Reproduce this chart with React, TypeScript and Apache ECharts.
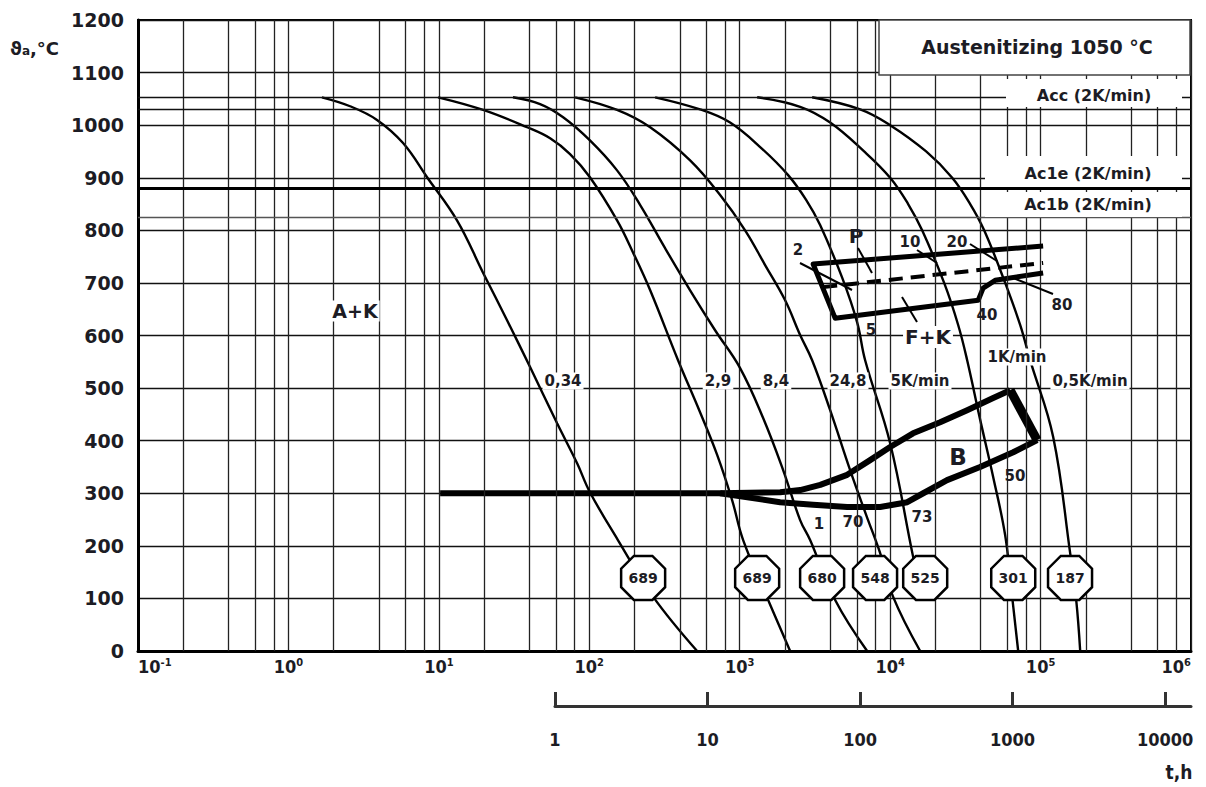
import React, { useEffect, useRef } from "react";
import * as echarts from "echarts";

const FONT = "'DejaVu Sans', Verdana, sans-serif";
const FONT_C = "'DejaVu Sans Condensed', 'Liberation Sans Narrow', 'DejaVu Sans', sans-serif";
const INK = "#1c1c24";

// axis ticks
const decadeExponents = ["-1", "0", "1", "2", "3", "4", "5", "6"];
const minorMultipliers = [2, 4, 6, 8];
const hourLabels = ["1", "10", "100", "1000", "10000"];

// critical temperatures (°C)
const austenitizingLine = 1053;
const accTemp = 1030;
const ac1eTemp = 880;
const ac1bTemp = 825;

// cooling curves [t, T (°C)]
const curve034 = [[1.67, 1053], [2.57, 1036], [3.88, 1010], [5.78, 966], [8.35, 901], [13.2, 819], [19.7, 719], [28.4, 629], [40.4, 540], [61.1, 433], [83, 357], [101, 302], [155, 211], [266, 103], [521, 0]];
const curve29 = [[9.88, 1053], [19.7, 1029], [38.6, 996], [54.9, 975], [74.5, 945], [101, 901], [153, 819], [196, 757], [254, 686], [389, 553], [545, 454], [708, 373], [890, 287], [1054, 211], [1545, 97], [2163, 0]];
const curve84 = [[31.1, 1053], [47.1, 1040], [67, 1015], [101, 971], [153, 914], [218, 848], [319, 766], [468, 686], [686, 610], [1006, 538], [1431, 443], [1944, 344], [2521, 249], [2938, 211], [4309, 97], [7031, 0]];
const curve248 = [[80.5, 1053], [153, 1029], [254, 996], [468, 933], [741, 867], [1086, 800], [1475, 734], [2004, 667], [2521, 601], [3030, 553], [3992, 458], [5420, 344], [6923, 259], [8583, 186], [10470, 103], [15830, 0]];
const curve5K = [[274, 1053], [545, 1030], [863, 1005], [1409, 955], [2098, 905], [2764, 858], [3424, 810], [4797, 710], [6035, 625], [6820, 553], [10000, 395], [14220, 179], [15360, 139]];
const curve1K = [[1306, 1053], [2521, 1035], [3992, 1005], [6716, 950], [10000, 900], [13170, 850], [16320, 800], [22860, 700], [28330, 620], [32510, 553], [39660, 440], [48400, 331], [58170, 220], [63750, 120], [70990, 0]];
const curve05K = [[3030, 1053], [6318, 1030], [10000, 1000], [17350, 950], [25840, 900], [34040, 850], [42170, 800], [58170, 700], [73160, 620], [85280, 553], [121300, 407], [157300, 186], [172500, 97], [183400, 0]];

// transformation regions
const pearliteOutline = [[104000, 770], [3076, 736], [4306, 633], [38500, 667], [41500, 690], [49900, 705], [104000, 719]];
const pearliteMid = [[3590, 692], [104000, 738]];
const bainiteUpper = [[10.2, 300], [741, 300], [1857, 302], [2523, 306], [3430, 316], [5180, 335], [7360, 363], [10000, 388], [14200, 414], [21500, 435], [32500, 458], [48400, 481], [62800, 496]];
const bainiteRight = [[62800, 496], [94900, 401]];
const bainiteLower = [[94900, 401], [65800, 378], [39600, 350], [23900, 325], [16600, 300], [13000, 283], [8590, 274], [5180, 274], [3076, 278], [1857, 283], [741, 300]];

// hardness HV
const hardnessValues = [689, 689, 680, 548, 525, 301, 187];
const hardnessTimes = [228, 1306, 3530, 7940, 17100, 65800, 157000];
const hardnessTemp = 139;

const OCTAGON = "path://M29,0L71,0L100,29L100,71L71,100L29,100L0,71L0,29Z";

function txt(text: string, x: number, y: number, size: number, bg = true, extra: any = {}) {
  return {
    type: "text",
    x,
    y,
    z: 100,
    style: {
      text,
      fill: INK,
      font: `bold ${size}px ${FONT}`,
      fontSize: size,
      fontWeight: "bold",
      fontFamily: FONT,
      align: "center",
      verticalAlign: "middle",
      textAlign: "center",
      textVerticalAlign: "middle",
      backgroundColor: bg ? "#fff" : undefined,
      padding: bg ? [1, 2, 1, 2] : 0,
      ...extra,
    },
  };
}
function lead(x1: number, y1: number, x2: number, y2: number) {
  return { type: "line", z: 90, shape: { x1, y1, x2, y2 }, style: { stroke: "#000", lineWidth: 2 } };
}
function whiteRect(x: number, y: number, w: number, h: number, stroke?: string) {
  return { type: "rect", z: 95, shape: { x, y, width: w, height: h }, style: { fill: "#fff", stroke: stroke || null, lineWidth: 1.5 } };
}

export default function App() {
  const ref = useRef<HTMLDivElement>(null);
  useEffect(() => {
    if (!ref.current) return;
    const chart = echarts.init(ref.current, null, { renderer: "svg" });

    const minorX: number[] = [];
    for (let e = -1; e < 6; e++) for (const m of minorMultipliers) minorX.push(m * Math.pow(10, e));

    const curveStyle = { color: "#000", width: 2.4 };
    const curves = [curve034, curve29, curve84, curve248, curve5K, curve1K, curve05K].map((d, i) => ({
      type: "line",
      name: "c" + i,
      data: d,
      symbol: "none",
      smooth: 0.4,
      lineStyle: curveStyle,
      z: 3,
      silent: true,
    }));

    const region = (d: number[][], w: number, extra: any = {}) => ({
      type: "line",
      data: d,
      symbol: "none",
      smooth: false,
      lineStyle: { color: "#000", width: w, join: "round", ...extra },
      z: 4,
      silent: true,
    });

    const option: any = {
      animation: false,
      backgroundColor: "#fff",
      grid: [
        { left: 138, right: 15, top: 20, bottom: 136, show: true, borderColor: "#000", borderWidth: 2, backgroundColor: "transparent" },
        { left: 555, right: 15, top: 705, height: 1, show: false },
      ],
      xAxis: [
        {
          type: "log",
          logBase: 10,
          min: 0.1,
          max: 1e6,
          gridIndex: 0,
          axisLine: { show: true, onZero: false, lineStyle: { color: "#000", width: 3 } },
          axisTick: { show: false },
          axisLabel: {
            margin: 6,
            alignMinLabel: "left",
            alignMaxLabel: "right",
            formatter: (v: number) => {
              const e = Math.round(Math.log10(v));
              return `{b|10}{s|${decadeExponents[e + 1]}}`;
            },
            rich: {
              b: { fontSize: 18, fontWeight: "bold", fontFamily: FONT_C, color: INK },
              s: { fontSize: 11, fontWeight: "bold", fontFamily: FONT_C, color: INK, verticalAlign: "top" },
            },
          },
          splitLine: { show: true, lineStyle: { color: "#222", width: 1.3 } },
        },
        {
          type: "value",
          gridIndex: 1,
          min: 0,
          max: 4.17,
          interval: 1,
          position: "bottom",
          axisLine: { show: true, lineStyle: { color: "#333", width: 3 } },
          axisTick: { show: true, inside: true, length: 14, lineStyle: { color: "#333", width: 3 } },
          axisLabel: {
            margin: 24,
            fontSize: 18,
            fontWeight: "bold",
            fontFamily: FONT_C,
            color: INK,
            formatter: (v: number) => hourLabels[Math.round(v)] ?? "",
          },
          splitLine: { show: false },
        },
      ],
      yAxis: [
        {
          type: "value",
          min: 0,
          max: 1200,
          interval: 100,
          gridIndex: 0,
          axisLine: { show: true, lineStyle: { color: "#000", width: 3 } },
          axisTick: { show: false },
          axisLabel: { margin: 14, fontSize: 19, fontWeight: "bold", fontFamily: FONT, color: INK, formatter: (v: number) => String(v) },
          splitLine: { show: true, lineStyle: { color: "#111", width: 1.3 } },
        },
        { type: "value", gridIndex: 1, show: false, min: 0, max: 1 },
      ],
      series: [
        {
          type: "line",
          data: [[0.1, -10]],
          symbol: "none",
          lineStyle: { opacity: 0 },
          z: 1,
          silent: true,
          markLine: {
            silent: true,
            symbol: ["none", "none"],
            label: { show: false },
            animation: false,
            data: [
              ...minorX.map((v) => ({ xAxis: v, lineStyle: { color: "#222", width: 1.3, type: "solid" } })),
              { yAxis: austenitizingLine, lineStyle: { color: "#111", width: 1.4, type: "solid" } },
              { yAxis: accTemp, lineStyle: { color: "#111", width: 1.4, type: "solid" } },
              { yAxis: ac1eTemp, lineStyle: { color: "#000", width: 3, type: "solid" } },
              { yAxis: ac1bTemp, lineStyle: { color: "#555", width: 1.4, type: "solid" } },
            ],
          },
        },
        ...curves,
        region(pearliteOutline, 5),
        region(pearliteMid, 4, { type: [14, 8] }),
        region(bainiteUpper, 6),
        region(bainiteRight, 9),
        region(bainiteLower, 6),
        {
          type: "scatter",
          data: hardnessTimes.map((t, i) => [t, hardnessTemp, hardnessValues[i]]),
          symbol: OCTAGON,
          symbolSize: 44,
          itemStyle: { color: "#fff", borderColor: "#000", borderWidth: 2.5, opacity: 1 },
          label: {
            show: true,
            position: "inside",
            formatter: (p: any) => String(p.value[2]),
            fontSize: 14,
            fontWeight: "bold",
            fontFamily: FONT,
            color: INK,
          },
          z: 6,
          silent: true,
        },
      ],
      graphic: {
        elements: [
          whiteRect(879, 20, 311, 55, "#444"),
          txt("Austenitizing 1050 °C", 1037, 47, 19, false),
          whiteRect(1006, 79, 176, 28),
          txt("Acc (2K/min)", 1094, 95, 16, false),
          whiteRect(985, 156, 197, 31),
          txt("Ac1e (2K/min)", 1088, 173, 16, false),
          whiteRect(985, 192, 197, 25),
          txt("Ac1b (2K/min)", 1088, 204, 16, false),
          txt("A+K", 355, 311, 19),
          txt("P", 856, 236, 20, false),
          txt("F+K", 928, 337, 20),
          txt("B", 958, 457, 23, false),
          txt("0,34", 563, 381, 15),
          txt("2,9", 718, 381, 15),
          txt("8,4", 776, 381, 15),
          txt("24,8", 848, 381, 15),
          txt("5K/min", 920, 381, 15),
          txt("1K/min", 1017, 357, 15),
          txt("0,5K/min", 1090, 381, 15),
          txt("2", 798, 250, 15, false),
          txt("10", 910, 242, 15, false),
          txt("20", 957, 242, 15, false),
          txt("80", 1062, 305, 15, false),
          txt("40", 987, 315, 15, false),
          txt("5", 871, 330, 15, false),
          txt("1", 819, 524, 15, false),
          txt("70", 853, 522, 15, false),
          txt("73", 922, 517, 15, false),
          txt("50", 1015, 476, 15, false),
          lead(800, 263, 852, 290),
          lead(858, 248, 872, 273),
          lead(917, 250, 937, 263),
          lead(970, 244, 997, 261),
          lead(1013, 278, 1053, 294),
          lead(902, 297, 917, 322),
          {
            type: "text",
            x: 10,
            y: 48,
            z: 100,
            style: {
              text: "{a|ϑ}{b|a}{a|,°C}",
              verticalAlign: "middle",
              textVerticalAlign: "middle",
              rich: {
                a: { fontSize: 18, fontWeight: "bold", fontFamily: FONT, fill: INK, color: INK },
                b: { fontSize: 12, fontWeight: "bold", fontFamily: FONT, fill: INK, color: INK, verticalAlign: "bottom" },
              },
            },
          },
          txt("t,h", 1179, 772, 19, false, { fontFamily: FONT_C, font: `bold 19px ${FONT_C}` }),
        ],
      },
    };
    chart.setOption(option);
    return () => chart.dispose();
  }, []);
  return <div ref={ref} style={{ position: "absolute", left: 0, top: 0, width: 1206, height: 787, background: "#fff" }} />;
}
